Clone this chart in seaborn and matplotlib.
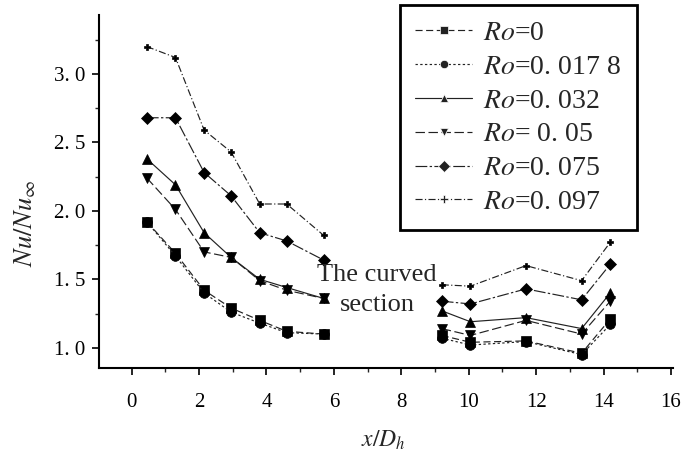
import seaborn as sns
import pandas as pd
import matplotlib.pyplot as plt
from matplotlib.ticker import MultipleLocator

# x/Dh positions of the measuring stations (two straight sections)
x_pos = [0.45, 1.3, 2.15, 2.95, 3.8, 4.6, 5.7, 9.2, 10.05, 11.7, 13.35, 14.2]
section = [0, 0, 0, 0, 0, 0, 0, 1, 1, 1, 1, 1]

nu_ro0 = [1.92, 1.69, 1.42, 1.29, 1.20, 1.12, 1.10, 1.09, 1.04, 1.05, 0.96, 1.21]
nu_ro00178 = [1.92, 1.67, 1.40, 1.26, 1.18, 1.11, 1.10, 1.07, 1.02, 1.045, 0.95, 1.17]
nu_ro0032 = [2.38, 2.19, 1.84, 1.66, 1.50, 1.44, 1.36, 1.27, 1.19, 1.22, 1.14, 1.40]
nu_ro005 = [2.24, 2.01, 1.70, 1.66, 1.49, 1.42, 1.36, 1.14, 1.09, 1.20, 1.10, 1.34]
nu_ro0075 = [2.68, 2.68, 2.28, 2.11, 1.84, 1.78, 1.64, 1.34, 1.32, 1.43, 1.35, 1.61]
nu_ro0097 = [3.20, 3.12, 2.59, 2.43, 2.05, 2.05, 1.82, 1.46, 1.45, 1.60, 1.49, 1.77]

labels = ["$Ro$=0", "$Ro$=0. 017 8", "$Ro$=0. 032",
          "$Ro$= 0. 05", "$Ro$=0. 075", "$Ro$=0. 097"]
series = [nu_ro0, nu_ro00178, nu_ro0032, nu_ro005, nu_ro0075, nu_ro0097]

xticks = [0, 2, 4, 6, 8, 10, 12, 14, 16]
xtick_labels = ["0", "2", "4", "6", "8", "10", "12", "14", "16"]
yticks = [1.0, 1.5, 2.0, 2.5, 3.0]
ytick_labels = ["1. 0", "1. 5", "2. 0", "2. 5", "3. 0"]

rows = []
for lab, vals in zip(labels, series):
    for x, y, s in zip(x_pos, vals, section):
        rows.append([x, y, lab, s])
df = pd.DataFrame(rows, columns=["x", "nu", "Ro", "seg"])

sns.set_style("ticks")
plt.rcParams["font.family"] = ["Liberation Serif", "DejaVu Serif"]
plt.rcParams["mathtext.fontset"] = "stix"

markers = dict(zip(labels, ["s", "o", "^", "v", "D", "P"]))
dashes = dict(zip(labels, [(6, 3), (2, 2), "", (8, 3), (10, 2, 2, 2), (6, 2, 1, 2)]))
palette = dict(zip(labels, ["#222222"] * 6))

fig = plt.figure(figsize=(6.85, 4.54), dpi=100)
ax = fig.add_axes([0.1445, 0.1888, 0.8374, 0.778])

sns.lineplot(data=df, x="x", y="nu", hue="Ro", style="Ro", units="seg",
             estimator=None, hue_order=labels, style_order=labels,
             markers=markers, dashes=dashes, palette=palette,
             linewidth=0.85, markersize=6, markeredgewidth=0.5, ax=ax)
msize = {"s": 6.5, "o": 7, "^": 7.5, "v": 7.5, "D": 6, "P": 4.5}
for ln in ax.lines:
    m = ln.get_marker()
    if m in msize:
        ln.set_markersize(msize[m])
        ln.set_markerfacecolor("black")
        ln.set_markeredgecolor("black")

ax.set_xlim(-0.97, 16.05)
ax.set_ylim(0.85, 3.43)
ax.set_xticks(xticks)
ax.set_xticklabels(xtick_labels)
ax.set_yticks(yticks)
ax.set_yticklabels(ytick_labels)
ax.xaxis.set_minor_locator(MultipleLocator(1))
ax.yaxis.set_minor_locator(MultipleLocator(0.25))
ax.tick_params(which="major", direction="out", length=5, width=1.2,
               labelsize=15, pad=13, colors="black")
ax.tick_params(axis="y", which="major", pad=5)
ax.tick_params(which="minor", direction="out", length=3, width=1.0)
for side in ["left", "bottom"]:
    ax.spines[side].set_linewidth(1.5)
    ax.spines[side].set_color("black")
sns.despine(ax=ax)

ax.set_xlabel("$x/D_h$", fontsize=17)
ax.set_ylabel("$Nu/Nu_{\\infty}$", fontsize=19)
ax.xaxis.set_label_coords(0.495, -0.17)
ax.yaxis.set_label_coords(-0.106, 0.411)

ax.text(7.28, 1.42, "The curved\nsection", fontsize=19, ha="center",
        va="center", multialignment="center", linespacing=1.5)

sns.move_legend(ax, "center", bbox_to_anchor=(0.731, 0.709), title=None,
                fontsize=20, frameon=True, fancybox=False, edgecolor="black",
                framealpha=1, labelspacing=0.3, handlelength=2.05,
                handletextpad=0.4, borderpad=0.55, borderaxespad=0)
leg = ax.get_legend()
leg.get_frame().set_linewidth(2)

fig.savefig("out.png", dpi=100)
